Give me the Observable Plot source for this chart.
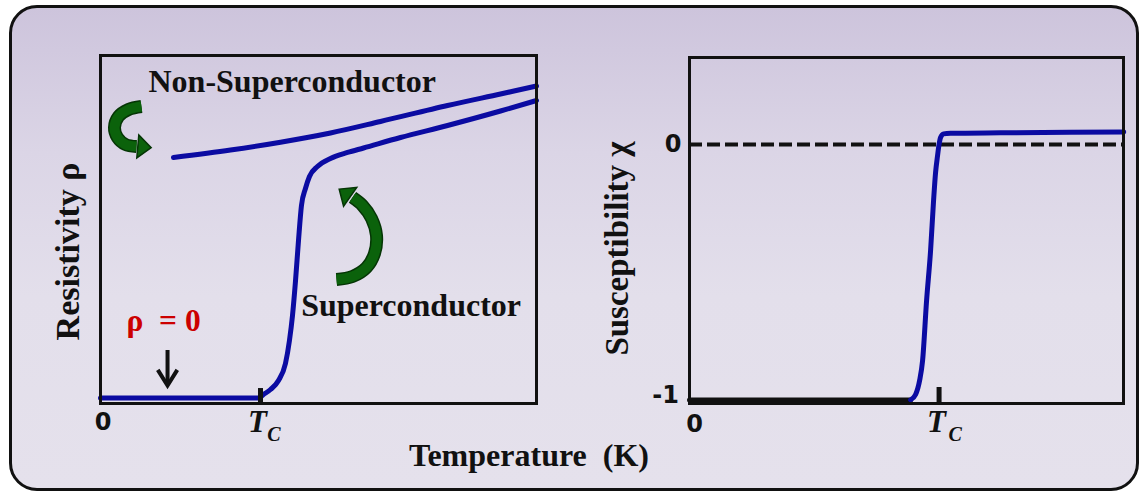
<!DOCTYPE html>
<html><head><meta charset="utf-8">
<script src="https://cdn.jsdelivr.net/npm/d3@7"></script>
<script src="https://cdn.jsdelivr.net/npm/@observablehq/plot@0.6"></script>
<style>
html,body{margin:0;padding:0;width:1140px;height:494px;overflow:hidden;background:#fff;}
#box{position:absolute;left:9px;top:5px;width:1130px;height:486px;box-sizing:border-box;border:3px solid #111;border-radius:28px;
background:linear-gradient(to bottom,#cdc4dc 0%,#dbd5e6 30%,#e3dfeb 60%,#e5e1ec 100%);}
#left{position:absolute;left:0;top:0;}
#right{position:absolute;left:580px;top:0;}
#xlabel{position:absolute;left:409px;top:439px;font:bold 32px "Liberation Serif","Times New Roman",serif;white-space:pre;line-height:32px;color:#111;}
</style></head>
<body>
<div id="box"></div>
<div id="left"></div>
<div id="right"></div>
<div id="xlabel">Temperature  (K)</div>
<script>
// ---- data (temperature in units of Tc) ----
// Left panel: resistivity (arbitrary units)
const superT = [0, 0.9875, 1.019, 1.0625, 1.1125, 1.156, 1.181, 1.2, 1.219, 1.2375, 1.256, 1.281, 1.306, 1.356, 1.4375, 1.544, 1.644, 1.875, 2.169, 2.5, 2.725];
const superRho = [0.158, 0.158, 0.259, 0.402, 0.661, 1.149, 1.81, 2.529, 3.534, 4.684, 5.69, 6.178, 6.523, 6.81, 7.04, 7.213, 7.342, 7.644, 7.989, 8.405, 8.707];
const normalT = [0.456, 0.8125, 1.125, 1.4375, 1.75, 2.169, 2.5, 2.725];
const normalRho = [7.069, 7.284, 7.509, 7.773, 8.103, 8.563, 8.894, 9.124];
// Right panel: susceptibility
const chiT = [0.886, 0.906, 0.922, 0.934, 0.95, 0.966, 0.978, 0.986, 0.994, 1.0, 1.006, 1.018, 1.046, 1.246, 1.74];
const chiV = [-0.99, -0.969, -0.915, -0.837, -0.605, -0.411, -0.217, -0.109, -0.043, 0, 0.027, 0.041, 0.043, 0.045, 0.048];
const chiLowT = [0, 0.886];
const chiLowV = [-0.99, -0.99];
// Tick values / labels
const tc = 1;
const xTickZero = [0];
const chiTickZero = [{v: 0, label: "0"}];
const chiTickMinus = [{v: -1, label: "-1"}];
// Annotation paths (data space)
const arrow1T = [0.256, 0.175, 0.1125, 0.0875, 0.106, 0.156, 0.225];
const arrow1R = [8.534, 8.448, 8.247, 7.931, 7.644, 7.443, 7.385];
const arrow1Head = {t: 0.269, r: 7.371, angle: 95};
const arrow2T = [1.475, 1.575, 1.6625, 1.7125, 1.725, 1.694, 1.6375, 1.575];
const arrow2R = [3.563, 3.649, 3.908, 4.31, 4.828, 5.316, 5.69, 5.92];
const arrow2Head = {t: 1.531, r: 6.034, angle: -55};
const notes = [
  {t: 0.3, r: 9.259, text: "Non-Superconductor"},
  {t: 1.254, r: 2.822, text: "Superconductor"}
];
const zeroNote = {t: 0.1625, r: 2.374, text: "ρ  = 0"};
const downArrow = {t: 0.419, r1: 1.523, r2: 0.517};

// ---- helpers ----
const zip = (a, b) => a.map((v, i) => ({x: v, y: b[i]}));
const blue = "#0b0ba2";
const ink = "#111";
const green = "#0b620b";
const greenEdge = "#053505";
const serif = "Liberation Serif, Times New Roman, serif";
const sans = "DejaVu Sans, Verdana, sans-serif";
const headSymbol = {
  draw(ctx, size) {
    const w = Math.sqrt(size);
    ctx.moveTo(0, -w * 0.6);
    ctx.lineTo(w * 0.9, w * 0.45);
    ctx.lineTo(-w * 0.9, w * 0.45);
    ctx.closePath();
  }
};
const chevronDown = {
  draw(ctx, size) {
    const w = Math.sqrt(size);
    ctx.moveTo(-w * 0.5, -w * 0.8);
    ctx.lineTo(0, 0);
    ctx.lineTo(w * 0.5, -w * 0.8);
  }
};
function greenArrow(ts, rs, head) {
  const d = zip(ts, rs);
  return [
    Plot.line(d, {x: "x", y: "y", stroke: greenEdge, strokeWidth: 13, curve: "catmull-rom", strokeLinecap: "butt"}),
    Plot.line(d, {x: "x", y: "y", stroke: green, strokeWidth: 10, curve: "catmull-rom", strokeLinecap: "butt"}),
    Plot.dot([head], {x: "t", y: "r", symbol: headSymbol, r: 7.2, rotate: head.angle, fill: green, stroke: greenEdge, strokeWidth: 1.5})
  ];
}
function tcLabel(dxT, dxC) {
  return [
    Plot.text([tc], {x: d => d, frameAnchor: "bottom", lineAnchor: "middle", dy: 19, dx: dxT, text: () => "T", fontFamily: serif, fontStyle: "italic", fontWeight: "bold", fontSize: 31, fill: ink}),
    Plot.text([tc], {x: d => d, frameAnchor: "bottom", lineAnchor: "middle", dy: 31, dx: dxC, text: () => "C", fontFamily: serif, fontStyle: "italic", fontWeight: "bold", fontSize: 20, fill: ink})
  ];
}
const tickFont = {fontFamily: sans, fontWeight: "bold", fontSize: 24, fill: ink, textAnchor: "middle", lineAnchor: "middle"};

// ---- left panel ----
const left = Plot.plot({
  width: 560, height: 494,
  marginLeft: 100, marginRight: 24, marginTop: 55, marginBottom: 91,
  style: {background: "transparent", overflow: "visible"},
  x: {domain: [0, 2.725], axis: null},
  y: {domain: [0, 10], axis: null},
  marks: [
    Plot.line(zip(normalT, normalRho), {x: "x", y: "y", stroke: blue, strokeWidth: 5, curve: "catmull-rom"}),
    Plot.line(zip(superT, superRho), {x: "x", y: "y", stroke: blue, strokeWidth: 5, curve: "monotone-x"}),
    ...greenArrow(arrow1T, arrow1R, arrow1Head),
    ...greenArrow(arrow2T, arrow2R, arrow2Head),
    Plot.text(notes, {x: "t", y: "r", text: "text", textAnchor: "start", fontFamily: serif, fontWeight: "bold", fontSize: 32, fill: ink}),
    Plot.text([zeroNote], {x: "t", y: "r", text: "text", textAnchor: "start", fontFamily: serif, fontWeight: "bold", fontSize: 31.5, fill: "#cc0000"}),
    Plot.ruleX([downArrow], {x: "t", y1: "r1", y2: "r2", stroke: ink, strokeWidth: 4}),
    Plot.dot([downArrow], {x: "t", y: "r2", symbol: chevronDown, r: 11, fill: "none", stroke: ink, strokeWidth: 4, strokeLinejoin: "miter"}),
    Plot.frame({stroke: ink, strokeWidth: 3}),
    Plot.ruleX([tc], {y1: 0, y2: 0.43, stroke: ink, strokeWidth: 5}),
    Plot.text(xTickZero, {x: d => d, frameAnchor: "bottom", dy: 19, dx: 2.5, text: () => "0", ...tickFont}),
    ...tcLabel(-3, 13.5),
    Plot.text(["Resistivity ρ"], {frameAnchor: "left", textAnchor: "middle", lineAnchor: "middle", dx: -32.5, dy: 22, rotate: -90, text: d => d, fontFamily: serif, fontWeight: "bold", fontSize: 34, fill: ink})
  ]
});
document.getElementById("left").append(left);

// ---- right panel ----
const right = Plot.plot({
  width: 560, height: 494,
  marginLeft: 109, marginRight: 17, marginTop: 57, marginBottom: 91,
  style: {background: "transparent", overflow: "visible"},
  x: {domain: [0, 1.739], axis: null},
  y: {domain: [-1.004, 0.337], axis: null},
  marks: [
    Plot.ruleY([0], {stroke: ink, strokeWidth: 4, strokeDasharray: "13,5"}),
    Plot.line(zip(chiLowT, chiLowV), {x: "x", y: "y", stroke: ink, strokeWidth: 5}),
    Plot.line(zip(chiT, chiV), {x: "x", y: "y", stroke: blue, strokeWidth: 5, curve: "monotone-x"}),
    Plot.frame({stroke: ink, strokeWidth: 3}),
    Plot.ruleX([tc], {y1: -1.004, y2: -0.942, stroke: ink, strokeWidth: 5}),
    Plot.text(chiTickZero, {y: "v", frameAnchor: "left", dx: -16.5, text: "label", ...tickFont}),
    Plot.text(chiTickMinus, {y: "v", frameAnchor: "left", dx: -24, dy: -7, text: "label", ...tickFont}),
    Plot.text(xTickZero, {x: d => d, frameAnchor: "bottom", dy: 21, dx: 5, text: () => "0", ...tickFont}),
    ...tcLabel(-2.5, 16),
    Plot.text(["Susceptibility χ"], {frameAnchor: "left", textAnchor: "middle", lineAnchor: "middle", dx: -72, dy: 18, rotate: -90, text: d => d, fontFamily: serif, fontWeight: "bold", fontSize: 33, fill: ink})
  ]
});
document.getElementById("right").append(right);
</script>
</body></html>
